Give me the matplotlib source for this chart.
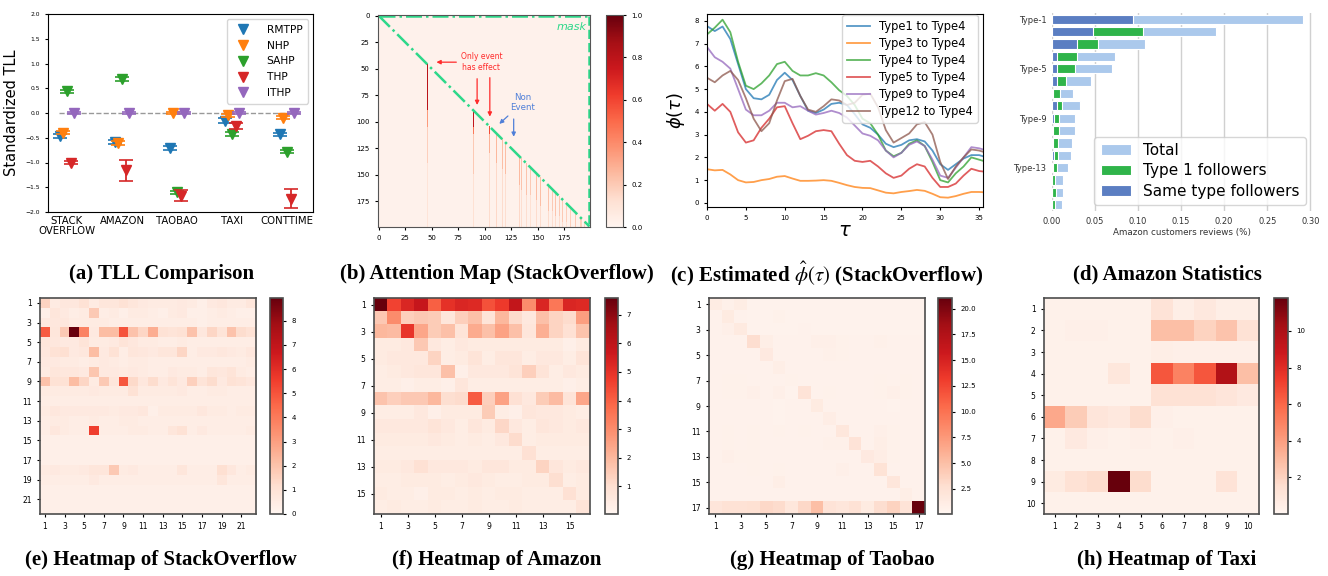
import matplotlib
matplotlib.use('Agg')
import matplotlib.pyplot as plt
from matplotlib.ticker import FormatStrFormatter
import numpy as np

W, H = 1328, 576

# ---------------- (a) TLL comparison ----------------
datasets = ['STACK\nOVERFLOW', 'AMAZON', 'TAOBAO', 'TAXI', 'CONTTIME']
models = ['RMTPP', 'NHP', 'SAHP', 'THP', 'ITHP']
tll_mean = [
    [-0.46, -0.58, -0.70, -0.16, -0.43],   # RMTPP
    [-0.40, -0.60, 0.00, -0.05, -0.10],    # NHP
    [0.44, 0.69, -1.60, -0.43, -0.78],     # SAHP
    [-1.00, -1.16, -1.67, -0.27, -1.73],   # THP
    [0.00, 0.00, 0.00, 0.00, 0.00],        # ITHP
]
tll_err = [
    [0.04, 0.04, 0.04, 0.05, 0.03],
    [0.03, 0.04, 0.02, 0.03, 0.03],
    [0.03, 0.04, 0.03, 0.04, 0.03],
    [0.03, 0.21, 0.11, 0.06, 0.19],
    [0.02, 0.02, 0.02, 0.02, 0.02],
]

# ---------------- (b) attention map (StackOverflow) ----------------
# column (event index) -> [(row where segment ends, attention value)], starting at the diagonal
attn_streaks = {
    46: [(90, 0.80), (106, 0.35), (140, 0.18), (200, 0.10)],
    90: [(106, 0.78), (112, 0.45), (150, 0.20), (200, 0.12)],
    105: [(112, 0.58), (130, 0.28), (200, 0.14)],
    111: [(140, 0.26), (200, 0.15)],
    117: [(145, 0.24), (200, 0.14)],
    120: [(150, 0.24), (200, 0.13)],
    133: [(160, 0.25), (200, 0.15)],
    135: [(165, 0.22), (200, 0.13)],
    140: [(170, 0.22), (200, 0.13)],
    143: [(170, 0.20), (200, 0.12)],
    149: [(175, 0.24), (200, 0.14)],
    153: [(180, 0.24), (200, 0.14)],
    160: [(185, 0.22), (200, 0.14)],
    164: [(185, 0.20), (200, 0.13)],
    167: [(190, 0.22), (200, 0.14)],
    171: [(190, 0.20), (200, 0.13)],
    174: [(195, 0.20), (200, 0.13)],
    177: [(195, 0.18), (200, 0.12)],
    181: [(200, 0.18)],
    186: [(200, 0.20)],
    191: [(200, 0.18)],
    194: [(200, 0.18)],
    197: [(200, 0.15)],
}
attn_background = 0.02

# ---------------- (c) estimated phi(tau) ----------------
tau = [0, 1, 2, 3, 4, 5, 6, 7, 8, 9, 10, 11, 12, 13, 14, 15, 16, 17, 18,
       19, 20, 21, 22, 23, 24, 25, 26, 27, 28, 29, 30, 31, 32, 33, 34, 35, 35.5]
phi_labels = ['Type1 to Type4', 'Type3 to Type4', 'Type4 to Type4',
              'Type5 to Type4', 'Type9 to Type4', 'Type12 to Type4']
phi_type1 = [7.77, 7.55, 7.75, 7.2, 6.1, 5.0, 4.6, 4.55, 4.75, 5.4, 5.72, 5.4, 4.7, 4.05,
             3.95, 4.1, 4.35, 4.4, 4.3, 3.9, 3.45, 3.3, 3.0, 2.6, 2.45, 2.55, 2.75, 2.8,
             2.7, 2.3, 1.7, 1.45, 1.7, 1.95, 2.1, 2.1, 2.05]
phi_type3 = [1.48, 1.43, 1.45, 1.25, 1.0, 0.9, 0.92, 1.0, 1.05, 1.15, 1.18, 1.07, 0.97, 0.97,
             0.98, 1.0, 0.97, 0.88, 0.78, 0.7, 0.66, 0.65, 0.55, 0.45, 0.42, 0.48, 0.52, 0.57,
             0.53, 0.4, 0.25, 0.23, 0.3, 0.4, 0.48, 0.48, 0.47]
phi_type4 = [7.4, 7.7, 8.05, 7.5, 6.2, 5.15, 5.0, 5.25, 5.6, 6.1, 6.2, 5.8, 5.6, 5.6,
             5.7, 5.6, 5.3, 4.95, 4.7, 4.3, 3.7, 3.5, 3.0, 2.3, 2.05, 2.2, 2.6, 2.75,
             2.5, 1.8, 1.0, 0.9, 1.3, 1.6, 2.0, 1.9, 1.85]
phi_type5 = [4.35, 4.05, 4.35, 4.0, 3.1, 2.65, 2.75, 3.3, 3.7, 4.2, 4.25, 3.5, 2.8, 2.95,
             3.15, 3.2, 3.15, 2.6, 2.1, 1.85, 1.8, 1.85, 1.6, 1.3, 1.1, 1.2, 1.5, 1.7,
             1.6, 1.1, 0.7, 0.7, 0.85, 1.2, 1.5, 1.4, 1.38]
phi_type9 = [6.85, 6.4, 6.2, 5.9, 5.0, 4.1, 3.85, 3.85, 4.05, 4.4, 4.4, 4.2, 4.25, 4.05,
             3.88, 3.95, 4.05, 3.95, 3.75, 3.4, 3.05, 2.95, 2.75, 2.3, 2.0, 2.2, 2.55, 2.7,
             2.5, 1.9, 1.2, 1.1, 1.55, 2.0, 2.45, 2.4, 2.35]
phi_type12 = [5.5, 5.3, 5.6, 5.8, 5.4, 4.6, 3.7, 3.15, 3.5, 4.5, 5.35, 5.45, 4.7, 4.1,
              4.0, 4.25, 4.55, 4.5, 4.3, 4.4, 4.75, 4.8, 4.2, 3.2, 2.65, 2.85, 3.05, 3.45,
              3.55, 3.0, 1.8, 1.05, 1.6, 2.0, 2.35, 2.3, 2.25]

# ---------------- (d) Amazon statistics ----------------
amz_types = ['Type-%d' % i for i in range(1, 17)]
amz_total = [0.291, 0.190, 0.1075, 0.073, 0.0695, 0.045, 0.0245, 0.032,
             0.0264, 0.0264, 0.0237, 0.0217, 0.0186, 0.0132, 0.0124, 0.0116]
amz_type1 = [0.094, 0.1055, 0.0535, 0.029, 0.0264, 0.0163, 0.0093, 0.0116,
             0.0081, 0.0081, 0.007, 0.007, 0.0054, 0.0039, 0.0043, 0.0035]
amz_same = [0.094, 0.048, 0.0287, 0.006, 0.006, 0.006, 0.0015, 0.0058,
            0.0023, 0.0012, 0.001, 0.0023, 0.0008, 0.0005, 0.0003, 0.0003]

# ---------------- (e)-(h) heatmaps ----------------
heat_so = [
    [1.5, 0.5, 0.7, 0.7, 1.0, 0.5, 0.8, 0.8, 1.0, 0.8, 0.6, 0.5, 0.5, 0.5, 0.6, 0.5, 0.3, 0.6, 0.7, 0.5, 0.5, 0.8],
    [0.3, 0.8, 0.6, 0.4, 0.5, 1.8, 0.4, 0.5, 0.3, 0.5, 0.5, 0.4, 0.3, 0.5, 0.6, 0.3, 0.3, 0.4, 0.5, 0.4, 0.3, 0.3],
    [0.6, 0.7, 0.7, 0.5, 0.5, 0.5, 0.5, 0.4, 0.4, 0.4, 0.4, 0.4, 0.4, 0.4, 0.4, 0.4, 0.3, 0.4, 0.4, 0.4, 0.4, 0.4],
    [4.8, 0.8, 1.8, 8.9, 3.8, 0.6, 2.2, 2.2, 5.0, 2.0, 1.4, 2.6, 1.0, 0.9, 1.0, 2.0, 0.7, 1.4, 0.9, 2.0, 1.2, 1.0],
    [0.8, 0.7, 0.6, 0.6, 0.9, 0.5, 0.5, 0.6, 0.9, 0.7, 0.5, 0.5, 0.4, 0.4, 0.5, 0.4, 0.4, 0.4, 0.4, 0.4, 0.4, 0.4],
    [0.7, 1.0, 1.1, 0.6, 0.7, 2.2, 0.6, 1.0, 0.4, 0.8, 0.7, 0.6, 0.8, 0.8, 1.4, 0.4, 0.6, 0.6, 0.7, 0.6, 0.5, 0.7],
    [0.6, 0.6, 0.5, 0.5, 0.4, 0.5, 0.6, 0.5, 0.4, 0.5, 0.5, 0.4, 0.4, 0.4, 0.4, 0.4, 0.4, 0.4, 0.4, 0.4, 0.4, 0.5],
    [0.5, 0.8, 0.7, 0.7, 0.6, 1.9, 0.6, 0.6, 0.5, 0.6, 0.5, 0.4, 0.4, 0.6, 0.5, 0.5, 0.4, 0.8, 0.7, 0.9, 0.5, 0.4],
    [2.0, 1.0, 1.0, 2.2, 1.4, 0.5, 1.8, 0.8, 4.9, 1.3, 0.7, 1.2, 0.6, 0.9, 0.6, 1.6, 0.9, 1.2, 0.6, 1.0, 0.9, 0.7],
    [0.5, 0.5, 0.5, 0.5, 0.5, 0.6, 0.5, 0.5, 0.5, 1.0, 0.5, 0.5, 0.5, 0.5, 0.6, 0.4, 0.4, 0.5, 0.5, 0.4, 0.4, 0.4],
    [0.4] * 22,
    [0.5, 0.7, 0.6, 0.6, 0.6, 0.6, 0.6, 0.5, 0.6, 0.6, 0.7, 0.3, 0.5, 0.5, 0.5, 0.5, 0.7, 0.5, 0.5, 0.4, 0.5, 0.5],
    [0.4, 0.5, 0.5, 0.4, 0.4, 0.5, 0.4, 0.4, 0.5, 0.5, 0.4, 0.4, 0.4, 0.4, 0.4, 0.4, 0.4, 0.4, 0.4, 0.4, 0.4, 0.4],
    [0.4, 0.7, 0.5, 0.4, 0.4, 5.5, 0.4, 0.4, 0.4, 0.5, 0.5, 0.4, 0.4, 0.8, 1.0, 0.4, 0.6, 0.4, 0.4, 0.4, 0.4, 0.5],
    [0.3] * 22,
    [0.3] * 22,
    [0.3] * 22,
    [0.5, 0.6, 0.5, 0.5, 0.6, 0.8, 0.8, 1.8, 0.5, 0.6, 0.4, 0.4, 0.4, 0.4, 0.8, 0.4, 0.4, 0.4, 1.1, 0.7, 0.4, 0.5],
    [0.4, 0.4, 0.4, 0.4, 0.4, 0.6, 0.4, 0.4, 0.4, 0.4, 0.4, 0.4, 0.4, 0.4, 0.4, 0.4, 0.4, 0.4, 0.8, 0.4, 0.4, 0.4],
    [0.3] * 22,
    [0.3] * 22,
    [0.3] * 22,
]
heat_amazon = [
    [7.6, 4.6, 5.3, 5.8, 4.0, 5.0, 5.3, 5.2, 4.3, 4.8, 5.9, 3.0, 5.3, 3.5, 5.3, 5.2],
    [1.6, 3.0, 1.4, 1.6, 1.5, 0.7, 1.4, 1.8, 0.8, 2.0, 1.1, 0.6, 1.8, 1.3, 1.1, 2.6],
    [2.0, 1.9, 4.9, 2.4, 1.5, 1.8, 0.8, 2.3, 1.8, 2.5, 1.8, 0.7, 2.2, 1.3, 0.9, 1.7],
    [0.5, 0.5, 0.6, 1.6, 0.6, 0.4, 0.6, 0.5, 0.5, 0.5, 0.5, 0.5, 0.5, 0.5, 0.3, 0.5],
    [0.5, 0.6, 0.6, 0.6, 1.3, 0.4, 0.5, 0.8, 0.4, 0.7, 0.7, 0.4, 0.6, 0.6, 0.4, 0.8],
    [0.4, 0.5, 0.6, 0.7, 0.7, 1.8, 0.3, 0.6, 0.6, 0.6, 0.8, 1.4, 0.8, 0.4, 0.6, 0.5],
    [0.4, 0.4, 0.3, 0.4, 0.4, 0.3, 0.7, 0.4, 0.4, 0.4, 0.4, 0.4, 0.4, 0.4, 0.3, 0.4],
    [1.7, 1.4, 1.6, 1.6, 2.0, 1.0, 1.1, 4.1, 1.4, 2.5, 0.9, 0.6, 1.5, 1.9, 0.8, 2.4],
    [0.4, 0.4, 0.4, 0.6, 0.3, 0.5, 0.5, 0.5, 1.5, 0.4, 0.3, 0.7, 0.6, 0.6, 0.5, 0.4],
    [0.6, 0.6, 0.6, 0.6, 0.8, 0.6, 0.4, 0.7, 0.5, 1.2, 0.6, 0.4, 0.7, 0.6, 0.5, 0.6],
    [0.5, 0.5, 0.5, 0.5, 0.6, 0.5, 0.4, 0.5, 0.4, 0.6, 1.1, 0.4, 0.5, 0.5, 0.5, 0.5],
    [0.4, 0.4, 0.4, 0.4, 0.4, 0.4, 0.4, 0.4, 0.4, 0.4, 0.4, 0.9, 0.4, 0.4, 0.4, 0.4],
    [0.5, 0.5, 0.6, 0.9, 0.6, 0.6, 0.6, 0.5, 0.7, 0.7, 0.5, 0.5, 1.3, 0.7, 0.5, 0.6],
    [0.4, 0.4, 0.5, 0.5, 0.5, 0.4, 0.5, 0.6, 0.5, 0.4, 0.4, 0.5, 0.5, 1.0, 0.4, 0.5],
    [0.5, 0.4, 0.4, 0.3, 0.5, 0.5, 0.4, 0.5, 0.4, 0.5, 0.5, 0.4, 0.4, 0.4, 0.9, 0.5],
    [0.4, 0.5, 0.4, 0.4, 0.5, 0.4, 0.4, 0.5, 0.4, 0.4, 0.5, 0.4, 0.4, 0.4, 0.4, 0.8],
]
heat_taobao = [
    [1.2, 0.7, 1.1, 0.4, 0.4, 0.4, 0.4, 0.4, 0.4, 0.4, 0.4, 0.4, 0.4, 0.4, 0.4, 0.4, 0.4],
    [0.5, 1.3, 0.5, 0.4, 0.4, 0.6, 0.4, 0.4, 0.4, 0.4, 0.4, 0.4, 0.4, 0.4, 0.4, 0.4, 0.4],
    [0.5, 0.8, 1.4, 0.4, 0.4, 0.4, 0.4, 0.5, 0.4, 0.4, 0.4, 0.4, 0.4, 0.4, 0.4, 0.4, 0.4],
    [0.5, 0.5, 0.5, 2.8, 0.9, 0.5, 0.5, 0.5, 0.8, 0.8, 0.6, 0.5, 0.5, 0.7, 0.5, 0.5, 0.5],
    [0.5, 0.5, 0.5, 0.5, 1.5, 0.5, 0.5, 0.5, 0.5, 0.7, 0.6, 0.5, 0.5, 0.5, 0.5, 0.5, 0.5],
    [0.5, 0.5, 0.5, 0.5, 0.5, 0.9, 0.5, 0.5, 0.5, 0.5, 0.5, 0.5, 0.5, 0.5, 0.5, 0.5, 0.5],
    [0.5, 0.6, 0.6, 0.5, 0.5, 0.5, 0.6, 0.5, 0.5, 0.5, 0.5, 0.5, 0.5, 0.6, 0.5, 0.6, 0.5],
    [0.5, 0.6, 0.6, 0.8, 0.5, 0.8, 0.4, 2.2, 0.5, 0.6, 0.5, 0.5, 0.5, 0.6, 0.8, 0.6, 0.5],
    [0.5, 0.5, 0.5, 0.5, 0.5, 0.4, 0.5, 0.5, 1.3, 0.5, 0.5, 0.5, 0.5, 0.5, 0.4, 0.5, 0.5],
    [0.5, 0.5, 0.5, 0.5, 0.5, 0.4, 0.5, 0.5, 0.5, 1.0, 0.5, 0.5, 0.5, 0.5, 0.5, 0.5, 0.5],
    [0.5, 0.6, 0.5, 0.6, 0.5, 0.6, 0.5, 0.6, 0.5, 0.5, 1.8, 0.5, 0.5, 0.8, 0.6, 0.5, 0.5],
    [0.5, 0.6, 0.5, 0.6, 0.5, 0.5, 0.5, 0.5, 0.5, 0.7, 0.7, 2.2, 0.5, 0.9, 0.6, 0.5, 0.5],
    [0.5, 0.8, 0.6, 0.6, 0.5, 0.5, 0.5, 0.5, 0.5, 0.5, 0.5, 0.5, 1.5, 1.0, 0.6, 0.5, 0.5],
    [0.5, 0.5, 0.5, 0.6, 0.5, 0.6, 0.5, 0.5, 0.5, 0.5, 0.8, 0.5, 0.5, 2.3, 0.5, 0.5, 0.5],
    [0.5, 0.5, 0.5, 0.5, 0.5, 0.9, 0.5, 0.5, 0.5, 0.5, 0.5, 0.5, 0.5, 0.5, 1.9, 0.5, 0.5],
    [0.5, 0.5, 0.5, 0.5, 0.5, 0.5, 0.5, 0.5, 0.5, 0.5, 0.5, 0.5, 0.5, 0.5, 0.5, 0.9, 0.5],
    [2.0, 2.4, 2.4, 2.6, 3.2, 3.0, 1.8, 3.2, 5.0, 2.2, 1.9, 2.4, 1.3, 2.8, 3.6, 2.2, 21.0],
]
heat_taxi = [
    [0.3, 0.3, 0.3, 0.3, 0.3, 1.2, 0.5, 0.9, 0.5, 0.5],
    [0.3, 0.4, 0.4, 0.3, 0.3, 2.8, 2.8, 2.0, 2.6, 1.3],
    [0.3, 0.3, 0.3, 0.3, 0.3, 0.5, 0.4, 0.4, 0.4, 0.4],
    [0.3, 0.3, 0.3, 1.0, 0.3, 6.5, 5.0, 6.5, 9.8, 2.8],
    [0.3, 0.3, 0.3, 0.3, 0.3, 1.3, 1.3, 1.3, 1.1, 0.8],
    [3.6, 2.3, 1.1, 0.9, 1.6, 0.4, 0.3, 0.3, 0.3, 0.3],
    [0.3, 0.8, 0.4, 0.3, 0.4, 0.3, 0.4, 0.3, 0.3, 0.3],
    [0.3, 0.3, 0.3, 0.3, 0.3, 0.3, 0.3, 0.3, 0.3, 0.3],
    [0.7, 1.3, 1.6, 11.8, 1.6, 0.3, 0.3, 0.3, 1.2, 0.3],
    [0.3, 0.3, 0.3, 0.3, 0.3, 0.3, 0.3, 0.3, 0.3, 0.3],
]

tab = ['#1f77b4', '#ff7f0e', '#2ca02c', '#d62728', '#9467bd', '#8c564b']
cap_font = dict(family='Liberation Serif', weight='bold', size=15)


def box(x0, y0, x1, y1):
    # pixel box (top-left origin) -> figure rect
    return [x0 / W, 1 - y1 / H, (x1 - x0) / W, (y1 - y0) / H]


def caption(x, y, s, **kw):
    fig.text(x / W, 1 - y / H, s, ha='center', va='center', **cap_font, **kw)


fig = plt.figure(figsize=(W / 100, H / 100), dpi=100)

# ---- (a)
ax = fig.add_axes(box(48, 14, 313, 212))
xpos = np.arange(len(datasets))
offs = [-0.13, -0.07, 0.0, 0.07, 0.13]
ax.hlines(0, -0.14, 4.25, colors='#999999', linestyles='--', lw=1)
for i, m in enumerate(models):
    xx = xpos + offs[i]
    eb = ax.errorbar(xx, tll_mean[i], yerr=tll_err[i], fmt='none', ecolor=tab[i],
                     elinewidth=1.3, capsize=5, capthick=1.2)
    for cl in eb[1]:
        cl.set_color('#aaaaaa')
    ax.plot(xx, tll_mean[i], 'v', color=tab[i], ms=7.5, ls='none', label=m)
ax.set_xlim(-0.345, 4.47)
ax.set_ylim(-2, 2)
ax.set_xticks(xpos)
ax.set_xticklabels(datasets, fontsize=7.3, linespacing=1.0)
ax.set_yticks(np.arange(-2, 2.01, 0.5))
ax.tick_params(axis='y', labelsize=4.3, length=2.5)
ax.tick_params(axis='x', length=0, pad=3)
ax.set_ylabel('Standardized TLL', fontsize=10.5)
ax.legend(loc='upper right', fontsize=7.7, labelspacing=0.55, handletextpad=1.2, borderpad=0.5)
caption(162, 274, '(a) TLL Comparison')

# ---- (b)
att = np.full((200, 200), attn_background)
for col, segs in attn_streaks.items():
    r0 = col
    for r1, v in segs:
        att[r0:r1, col] = v
        r0 = r1
ax = fig.add_axes(box(378, 15, 590, 227))
im = ax.imshow(att, cmap='Reds', vmin=0, vmax=1, interpolation='nearest', aspect='auto')
mask_c = '#2ed88a'
ax.plot([0, 199], [0, 199], ls='-.', color=mask_c, lw=1.8)
ax.plot([0, 199.5], [0.4, 0.4], ls='-.', color=mask_c, lw=1.8)
ax.plot([199, 199], [0, 199.5], ls='--', color=mask_c, lw=1.8)
ax.text(196, 11, 'mask', color=mask_c, style='italic', fontsize=8, ha='right', va='center')
red = '#ff2a2a'
blue = '#4f7fd8'
ax.text(97, 44, 'Only event\nhas effect', color=red, fontsize=5.5, ha='center', va='center', linespacing=1.3)
for (x0, y0), (x1, y1) in [((76, 44), (52, 44)), ((93, 57), (93, 87)), ((105, 56), (105, 98))]:
    ax.annotate('', xy=(x1, y1), xytext=(x0, y0),
                arrowprops=dict(arrowstyle='-|>', color=red, lw=0.9, mutation_scale=6))
ax.text(136, 82, 'Non\nEvent', color=blue, fontsize=6.2, ha='center', va='center', linespacing=1.15)
for (x0, y0), (x1, y1) in [((124, 93), (112, 104)), ((127.5, 95), (127.5, 117))]:
    ax.annotate('', xy=(x1, y1), xytext=(x0, y0),
                arrowprops=dict(arrowstyle='-|>', color=blue, lw=0.9, mutation_scale=6))
ax.set_xlim(-0.5, 199.5)
ax.set_ylim(199.5, -0.5)
ax.set_xticks(np.arange(0, 200, 25))
ax.set_yticks(np.arange(0, 200, 25))
ax.tick_params(labelsize=5, length=2.5)
for s in ax.spines.values():
    s.set_color('#555555')
cax = fig.add_axes(box(606, 15, 623, 227))
cb = fig.colorbar(im, cax=cax)
cb.set_ticks(np.arange(0, 1.01, 0.2))
cb.ax.tick_params(labelsize=5, length=2.5)
cb.outline.set_edgecolor('#555555')
caption(497, 274, '(b) Attention Map (StackOverflow)')

# ---- (c)
ax = fig.add_axes(box(707, 14, 983, 207))
phi_values = [phi_type1, phi_type3, phi_type4, phi_type5, phi_type9, phi_type12]
for lab, ys, c in zip(phi_labels, phi_values, tab):
    ax.plot(tau, ys, color=c, alpha=0.75, lw=1.3, label=lab)
ax.set_xlim(0, 35.5)
ax.set_ylim(-0.18, 8.3)
ax.set_xticks(np.arange(0, 36, 5))
ax.set_yticks(np.arange(0, 9, 1))
ax.tick_params(labelsize=5, length=2.5)
ax.set_ylabel(r'$\phi(\tau)$', fontsize=13, labelpad=5)
ax.set_xlabel(r'$\tau$', fontsize=14, labelpad=0)
ax.legend(loc='upper right', bbox_to_anchor=(0.985, 1.0), borderaxespad=0.1,
          fontsize=8.3, labelspacing=0.35)
caption(827, 274, r'(c) Estimated $\hat{\phi}(\tau)$ (StackOverflow)', math_fontfamily='stix')

# ---- (d)
ax = fig.add_axes(box(1052, 13, 1312, 211))
yb = np.arange(len(amz_types))
ax.barh(yb, amz_total, height=0.75, color='#abc9ec', edgecolor='white', lw=0.8, label='Total')
ax.barh(yb, amz_type1, height=0.75, color='#2fb44a', edgecolor='white', lw=0.8, label='Type 1 followers')
ax.barh(yb, amz_same, height=0.75, color='#5b7ec2', edgecolor='white', lw=0.8, label='Same type followers')
ax.set_ylim(len(amz_types) - 0.5, -0.5)
ax.set_xlim(0, 0.302)
ax.set_yticks(yb[::4])
ax.set_yticklabels(amz_types[::4])
ax.set_xticks(np.arange(0, 0.301, 0.05))
ax.xaxis.set_major_formatter(FormatStrFormatter('%.2f'))
ax.xaxis.grid(True, color='#d0d0d0', lw=1)
ax.set_axisbelow(True)
for s in ax.spines.values():
    s.set_visible(False)
ax.tick_params(length=0, labelsize=6, colors='#333333', pad=4)
ax.set_xlabel('Amazon customers reviews (%)', fontsize=6.3, color='#333333', labelpad=2)
leg = ax.legend(loc='lower right', fontsize=11, labelspacing=0.35, borderaxespad=0.4, fancybox=True)
leg.get_frame().set_edgecolor('#cccccc')
caption(1167, 274, '(d) Amazon Statistics')


# ---- (e)-(h)
def heatmap(rect, crect, data, vmin, vmax, tick_step, cticks, cfmt):
    data = np.array(data)
    n = data.shape[0]
    ax = fig.add_axes(box(*rect))
    im = ax.imshow(data, cmap='Reds', vmin=vmin, vmax=vmax, aspect='auto', interpolation='nearest')
    pos = np.arange(0, n, tick_step)
    ax.set_xticks(pos)
    ax.set_xticklabels([str(p + 1) for p in pos])
    ax.set_yticks(pos)
    ax.set_yticklabels([str(p + 1) for p in pos])
    ax.tick_params(labelsize=5.5, length=2.5)
    for s in ax.spines.values():
        s.set_color('#4d4d4d')
        s.set_linewidth(1.2)
    cax = fig.add_axes(box(*crect))
    cb = fig.colorbar(im, cax=cax)
    cb.set_ticks(cticks)
    cb.ax.yaxis.set_major_formatter(FormatStrFormatter(cfmt))
    cb.ax.tick_params(labelsize=5, length=2.5)
    cb.outline.set_edgecolor('#4d4d4d')
    cb.outline.set_linewidth(1.2)


heatmap((40, 298, 256, 514), (270, 298, 283, 514), heat_so, 0, 8.94, 2, np.arange(0, 9), '%d')
caption(161, 560, '(e) Heatmap of StackOverflow')
heatmap((374, 298, 590, 514), (605, 298, 618, 514), heat_amazon, 0.04, 7.58, 2, np.arange(1, 8), '%d')
caption(497, 560, '(f) Heatmap of Amazon')
heatmap((709, 298, 925, 514), (938, 298, 952, 514), heat_taobao, 0.07, 21.04, 2, np.arange(2.5, 20.1, 2.5), '%.1f')
caption(832, 560, '(g) Heatmap of Taobao')
heatmap((1044, 298, 1259, 514), (1274, 298, 1288, 514), heat_taxi, 0.0, 11.8, 1, np.arange(2, 11, 2), '%d')
caption(1167, 560, '(h) Heatmap of Taxi')

fig.savefig('out.png', dpi=100)
